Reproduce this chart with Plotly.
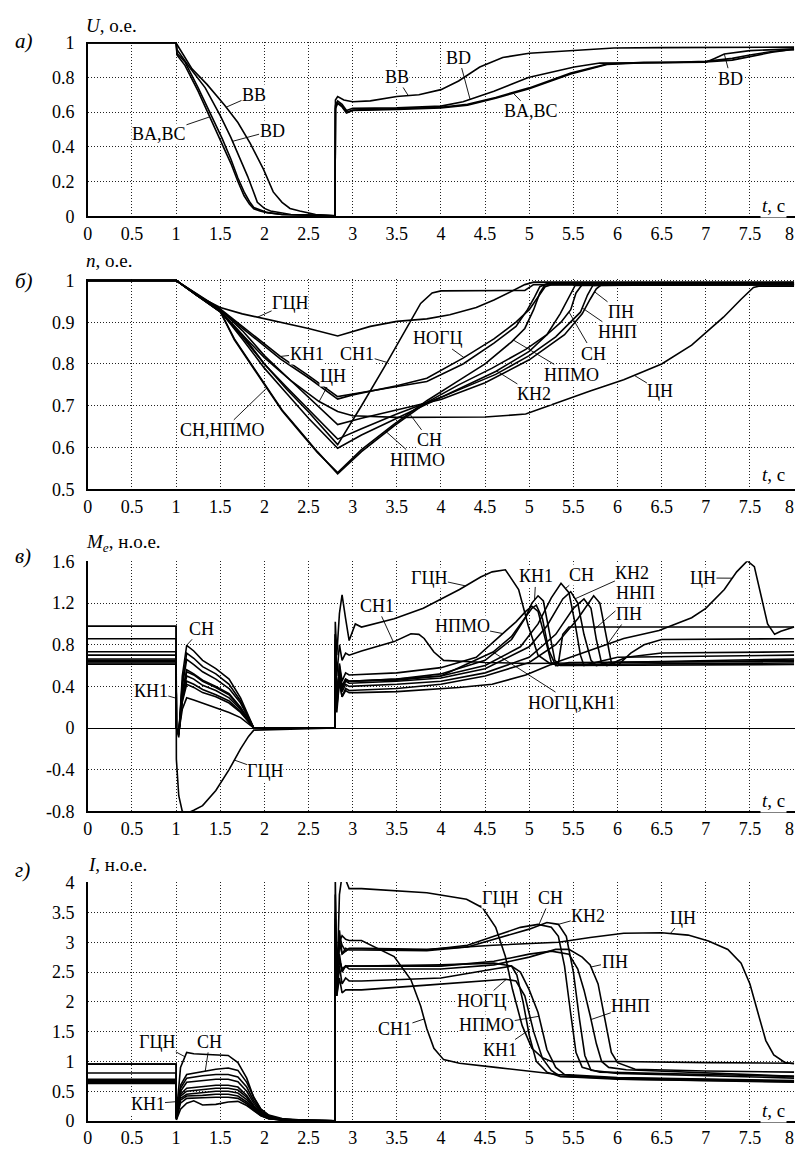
import numpy as np
import plotly.graph_objects as go

# ---------------- ticks ----------------
X_TICKS = [0, 0.5, 1, 1.5, 2, 2.5, 3, 3.5, 4, 4.5, 5, 5.5, 6, 6.5, 7, 7.5, 8]
X_TICK_TEXT = ["0", "0.5", "1", "1.5", "2", "2.5", "3", "3.5", "4", "4.5", "5", "5.5", "6", "6.5", "7", "7.5", "8\u00a0\u00a0"]
U_TICKS = [0, 0.2, 0.4, 0.6, 0.8, 1]
U_TICK_TEXT = ["0", "0.2", "0.4", "0.6", "0.8", "1"]
N_TICKS = [0.5, 0.6, 0.7, 0.8, 0.9, 1]
N_TICK_TEXT = ["0.5", "0.6", "0.7", "0.8", "0.9", "1"]
M_TICKS = [-0.8, -0.4, 0, 0.4, 0.8, 1.2, 1.6]
M_TICK_TEXT = ["-0.8", "-0.4", "0", "0.4", "0.8", "1.2", "1.6"]
I_TICKS = [0, 0.5, 1, 1.5, 2, 2.5, 3, 3.5, 4]
I_TICK_TEXT = ["0", "0.5", "1", "1.5", "2", "2.5", "3", "3.5", "4"]

# ---------------- panel a: U ----------------
U_BA_T = [0, 1.0, 1.01, 1.1, 1.25, 1.4, 1.52, 1.62, 1.7, 1.77, 1.83, 1.88, 1.95, 2.03, 2.2, 2.5, 2.8,
          2.805, 2.83, 2.88, 2.93, 3.0, 3.5, 4.0, 4.3, 4.62, 5.0, 5.47, 5.88, 6.3, 6.66, 7.0, 7.3, 7.5, 7.75, 7.96, 8.0]
U_BA = [1, 1, 0.93, 0.87, 0.72, 0.55, 0.42, 0.305, 0.2, 0.118, 0.07, 0.043, 0.03, 0.02, 0.01, 0.005, 0.003,
        0.62, 0.65, 0.63, 0.595, 0.61, 0.615, 0.625, 0.64, 0.68, 0.735, 0.82, 0.875, 0.885, 0.886, 0.89, 0.9, 0.92, 0.945, 0.96, 0.96]
U_BC_T = U_BA_T
U_BC = [1, 1, 0.94, 0.89, 0.74, 0.58, 0.45, 0.33, 0.22, 0.14, 0.085, 0.05, 0.035, 0.022, 0.01, 0.005, 0.003,
        0.63, 0.655, 0.635, 0.6, 0.612, 0.618, 0.628, 0.645, 0.685, 0.74, 0.825, 0.878, 0.887, 0.888, 0.893, 0.91, 0.93, 0.95, 0.962, 0.962]
U_BD_T = [0, 1.0, 1.01, 1.15, 1.33, 1.5, 1.62, 1.72, 1.81, 1.87, 1.92, 2.0, 2.07, 2.3, 2.8,
          2.805, 2.83, 2.88, 2.93, 3.0, 3.5, 4.0, 4.25, 4.6, 4.99, 5.51, 5.8, 6.5, 7.0, 7.1, 7.21, 7.5, 8.0]
U_BD = [1, 1, 0.96, 0.86, 0.74, 0.58, 0.455, 0.34, 0.23, 0.15, 0.08, 0.045, 0.03, 0.01, 0.003,
        0.64, 0.665, 0.645, 0.61, 0.622, 0.625, 0.635, 0.66, 0.72, 0.8, 0.86, 0.883, 0.885, 0.888, 0.91, 0.935, 0.955, 0.965]
U_BB_T = [0, 1.0, 1.01, 1.18, 1.35, 1.55, 1.7, 1.84, 1.99, 2.1, 2.2, 2.29, 2.4, 2.58, 2.8,
          2.805, 2.83, 2.9, 3.0, 3.2, 3.5, 3.75, 4.0, 4.2, 4.44, 4.7, 5.0, 5.5, 5.96, 6.5, 8.0]
U_BB = [1, 1, 0.99, 0.85, 0.76, 0.64, 0.54, 0.42, 0.27, 0.14, 0.08, 0.045, 0.03, 0.01, 0.003,
        0.67, 0.69, 0.67, 0.66, 0.665, 0.69, 0.7, 0.73, 0.78, 0.86, 0.915, 0.94, 0.955, 0.97, 0.972, 0.975]

# ---------------- panel б: n ----------------
N_GCN_T = [0, 1, 1.25, 1.5, 1.75, 2.0, 2.25, 2.5, 2.83, 3.2, 3.5, 3.84, 4.1, 4.4, 4.6, 4.8, 4.95, 5.05, 8]
N_GCN = [1, 1, 0.962, 0.935, 0.92, 0.908, 0.897, 0.885, 0.867, 0.89, 0.902, 0.908, 0.918, 0.935, 0.953, 0.975, 0.99, 0.996, 0.996]
N_KN1_T = [0, 1, 1.25, 1.5, 1.75, 2.0, 2.18, 2.5, 2.83, 3.0, 3.5, 3.84, 4.25, 4.6, 4.85, 4.98, 5.06, 5.12, 5.2, 8]
N_KN1 = [1, 1, 0.966, 0.932, 0.89, 0.848, 0.818, 0.772, 0.722, 0.728, 0.745, 0.758, 0.8, 0.85, 0.89, 0.93, 0.96, 0.985, 0.992, 0.992]
N_NOGC_T = [0, 1, 1.25, 1.5, 1.75, 2.0, 2.18, 2.5, 2.83, 3.0, 3.5, 3.84, 4.25, 4.6, 4.85, 5.0, 5.1, 5.18, 5.25, 8]
N_NOGC = [1, 1, 0.965, 0.93, 0.886, 0.843, 0.812, 0.767, 0.716, 0.726, 0.748, 0.766, 0.814, 0.86, 0.9, 0.93, 0.96, 0.985, 0.99, 0.99]
N_CN_T = [0, 1, 1.25, 1.5, 1.75, 2.0, 2.3, 2.62, 2.83, 3.0, 3.5, 4.0, 4.5, 4.96, 5.36, 5.69, 6.07, 6.5, 6.84, 7.2, 7.4, 7.54, 7.6, 8]
N_CN = [1, 1, 0.963, 0.925, 0.87, 0.815, 0.76, 0.71, 0.686, 0.676, 0.672, 0.672, 0.673, 0.68, 0.711, 0.735, 0.762, 0.8, 0.845, 0.912, 0.955, 0.983, 0.986, 0.986]
N_SN1_T = [0, 1, 1.25, 1.5, 1.75, 2.0, 2.25, 2.5, 2.83, 3.1, 3.38, 3.6, 3.77, 3.9, 4.0, 4.95, 5.05, 8]
N_SN1 = [1, 1, 0.962, 0.925, 0.865, 0.8, 0.74, 0.685, 0.607, 0.7, 0.8, 0.88, 0.945, 0.97, 0.975, 0.976, 0.99, 0.99]
N_SN_T = [0, 1, 1.25, 1.5, 1.66, 1.85, 2.03, 2.2, 2.4, 2.6, 2.83, 3.1, 3.47, 3.84, 4.2, 4.58, 4.96, 5.2, 5.36, 5.47, 5.53, 5.6, 8]
N_SN = [1, 1, 0.962, 0.926, 0.86, 0.8, 0.743, 0.69, 0.64, 0.59, 0.537, 0.59, 0.652, 0.708, 0.75, 0.79, 0.835, 0.87, 0.9, 0.93, 0.97, 0.99, 0.993]
N_NPMO_T = [0, 1, 1.25, 1.5, 1.66, 1.85, 2.03, 2.2, 2.4, 2.6, 2.83, 3.1, 3.47, 3.84, 4.2, 4.5, 4.8, 4.95, 5.05, 5.12, 5.18, 8]
N_NPMO = [1, 1, 0.962, 0.925, 0.858, 0.798, 0.74, 0.688, 0.638, 0.588, 0.54, 0.595, 0.656, 0.712, 0.76, 0.8, 0.853, 0.885, 0.93, 0.97, 0.99, 0.995]
N_KN2_T = [0, 1, 1.25, 1.5, 1.75, 2.0, 2.25, 2.5, 2.83, 3.1, 3.5, 4.0, 4.62, 5.0, 5.2, 5.35, 5.45, 5.52, 8]
N_KN2 = [1, 1, 0.963, 0.927, 0.86, 0.79, 0.73, 0.67, 0.598, 0.63, 0.67, 0.72, 0.782, 0.83, 0.87, 0.92, 0.96, 0.988, 0.99]
N_NNP_T = [0, 1, 1.25, 1.5, 1.75, 2.0, 2.25, 2.5, 2.83, 3.1, 3.5, 4.0, 4.62, 5.0, 5.3, 5.58, 5.66, 5.72, 8]
N_NNP = [1, 1, 0.963, 0.928, 0.87, 0.8, 0.745, 0.69, 0.62, 0.645, 0.68, 0.72, 0.775, 0.82, 0.865, 0.924, 0.965, 0.988, 0.992]
N_PN_T = [0, 1, 1.25, 1.5, 1.75, 2.0, 2.25, 2.5, 2.83, 3.1, 3.5, 4.0, 4.5, 5.0, 5.4, 5.6, 5.69, 5.76, 5.82, 8]
N_PN = [1, 1, 0.964, 0.93, 0.88, 0.82, 0.77, 0.72, 0.655, 0.67, 0.69, 0.715, 0.755, 0.81, 0.87, 0.92, 0.955, 0.98, 0.99, 0.99]

# ---------------- panel в: Me ----------------
M_T0 = [0, 1.0, 1.003, 1.03, 1.07, 1.12, 1.2, 1.3, 1.45, 1.6, 1.73, 1.82, 1.88, 2.8, 2.803, 2.82, 2.85, 2.88, 2.92, 2.96]
M_GCN_0 = [0.977, 0.977, -0.3, -0.65, -0.8, -0.82, -0.79, -0.745, -0.6, -0.4, -0.2, -0.08, -0.02, 0, 1.02, 0.7, 1.1, 1.28, 1.05, 0.84]
M_GCN_T = [3.03, 3.1, 3.47, 3.8, 4.21, 4.45, 4.58, 4.73, 4.88, 4.99, 5.1, 5.25, 5.33, 5.38, 5.45, 8.0]
M_GCN = [1.0, 0.97, 1.05, 1.15, 1.33, 1.45, 1.5, 1.52, 1.33, 0.98, 0.70, 0.61, 0.62, 0.9, 0.97, 0.97]
M_CN_0 = [0.977, 0.977, 0, -0.05, 0.43, 0.72, 0.67, 0.59, 0.52, 0.42, 0.26, 0.11, 0.0, 0, 0.55, 0.15, 0.45, 0.3, 0.36, 0.34]
M_CN_T = [3.05, 3.5, 3.84, 4.2, 4.58, 4.96, 5.33, 5.69, 6.07, 6.47, 6.84, 7.0, 7.21, 7.35, 7.47, 7.55, 7.62, 7.7, 7.78, 7.85, 8.0]
M_CN = [0.34, 0.35, 0.37, 0.39, 0.42, 0.51, 0.64, 0.75, 0.86, 0.936, 1.06, 1.15, 1.33, 1.5, 1.605, 1.55, 1.3, 1.0, 0.9, 0.93, 0.97]
M_SN_0 = [0.70, 0.70, 0, -0.09, 0.5, 0.795, 0.74, 0.65, 0.57, 0.47, 0.29, 0.12, 0, 0, 0.9, 0.2, 0.6, 0.4, 0.47, 0.45]
M_SN_T = [3.5, 4.0, 4.5, 4.9, 5.1, 5.25, 5.36, 5.45, 5.52, 5.58, 5.62, 5.7, 6.0, 8.0]
M_SN = [0.47, 0.5, 0.6, 0.78, 1.0, 1.25, 1.39, 1.3, 1.0, 0.7, 0.6, 0.62, 0.68, 0.70]
M_NPMO_0 = [0.638, 0.638, 0, -0.06, 0.4, 0.66, 0.61, 0.54, 0.47, 0.38, 0.24, 0.1, 0, 0, 0.8, 0.3, 0.62, 0.45, 0.53, 0.51]
M_NPMO_T = [3.5, 4.0, 4.4, 4.69, 4.85, 4.96, 5.03, 5.1, 5.18, 5.25, 5.32, 5.45, 8.0]
M_NPMO = [0.53, 0.58, 0.68, 0.9, 1.02, 1.12, 1.17, 1.12, 0.85, 0.63, 0.6, 0.63, 0.64]
M_KN2_0 = [0.663, 0.663, 0, -0.07, 0.34, 0.56, 0.52, 0.46, 0.4, 0.33, 0.2, 0.08, 0, 0, 0.7, 0.25, 0.5, 0.38, 0.45, 0.43]
M_KN2_T = [3.5, 4.0, 4.5, 5.0, 5.2, 5.38, 5.47, 5.55, 5.62, 5.7, 5.76, 5.9, 8.0]
M_KN2 = [0.45, 0.48, 0.57, 0.78, 0.98, 1.24, 1.31, 1.2, 0.9, 0.65, 0.6, 0.63, 0.663]
M_PN_0 = [0.858, 0.858, 0, -0.05, 0.32, 0.54, 0.51, 0.45, 0.39, 0.32, 0.19, 0.08, 0, 0, 0.6, 0.2, 0.45, 0.3, 0.38, 0.36]
M_PN_T = [3.5, 4.0, 4.5, 5.0, 5.3, 5.55, 5.73, 5.8, 5.87, 5.93, 6.0, 6.15, 6.3, 6.5, 8.0]
M_PN = [0.38, 0.42, 0.5, 0.63, 0.8, 1.05, 1.27, 1.2, 0.9, 0.63, 0.6, 0.72, 0.8, 0.85, 0.858]
M_NNP_0 = [0.732, 0.732, 0, -0.04, 0.3, 0.5, 0.47, 0.41, 0.36, 0.29, 0.18, 0.07, 0, 0, 0.75, 0.28, 0.5, 0.35, 0.42, 0.40]
M_NNP_T = [3.5, 4.0, 4.5, 5.0, 5.3, 5.5, 5.62, 5.7, 5.76, 5.82, 5.88, 6.1, 6.5, 8.0]
M_NNP = [0.42, 0.45, 0.53, 0.68, 0.9, 1.15, 1.24, 1.15, 0.85, 0.62, 0.6, 0.68, 0.72, 0.732]
M_SN1_0 = [0.65, 0.65, 0, -0.06, 0.27, 0.45, 0.42, 0.37, 0.32, 0.26, 0.16, 0.07, 0, 0, 0.9, 0.5, 0.8, 0.65, 0.72, 0.70]
M_SN1_T = [3.1, 3.47, 3.66, 3.75, 3.81, 3.92, 4.03, 4.5, 5.0, 6.0, 8.0]
M_SN1 = [0.74, 0.83, 0.905, 0.9, 0.86, 0.73, 0.65, 0.63, 0.62, 0.63, 0.65]
M_NOGC_0 = [0.625, 0.625, 0, -0.05, 0.25, 0.42, 0.39, 0.34, 0.3, 0.24, 0.15, 0.06, 0, 0, 0.85, 0.3, 0.55, 0.4, 0.47, 0.45]
M_NOGC_T = [3.5, 4.0, 4.59, 4.8, 4.95, 5.03, 5.08, 5.15, 5.22, 5.3, 5.4, 8.0]
M_NOGC = [0.46, 0.5, 0.73, 0.88, 1.05, 1.15, 1.18, 1.05, 0.75, 0.6, 0.61, 0.625]
M_KN1_0 = [0.613, 0.613, 0, -0.04, 0.18, 0.29, 0.27, 0.24, 0.2, 0.15, 0.1, 0.04, 0, 0, 0.65, 0.25, 0.55, 0.38, 0.46, 0.45]
M_KN1_T = [3.5, 4.0, 4.5, 4.8, 4.95, 5.03, 5.1, 5.16, 5.22, 5.29, 5.35, 5.5, 8.0]
M_KN1 = [0.47, 0.52, 0.65, 0.85, 1.05, 1.2, 1.27, 1.22, 0.95, 0.65, 0.6, 0.6, 0.61]

# ---------------- panel г: I ----------------
I_T0 = [0, 1.0, 1.003, 1.05, 1.12, 1.2, 1.3, 1.45, 1.59, 1.7, 1.8, 1.88, 1.96, 2.05, 2.2, 2.5, 2.8,
        2.803, 2.82, 2.85, 2.88, 2.92, 2.96]
I_GCN_0 = [0.955, 0.955, 0.1, 0.9, 1.15, 1.13, 1.12, 1.11, 1.10, 0.98, 0.72, 0.39, 0.2, 0.1, 0.04, 0.01, 0.003, 4.1, 2.2, 3.8, 4.12, 4.05, 3.9]
I_GCN_T = [3.1, 3.5, 3.84, 4.29, 4.47, 4.62, 4.73, 4.81, 4.92, 5.03, 5.15, 5.25, 5.4, 6.0, 7.0, 8.0]
I_GCN = [3.9, 3.86, 3.83, 3.72, 3.58, 3.25, 2.76, 2.21, 1.6, 1.22, 1.06, 1.0, 1.0, 1.0, 0.98, 0.97]
I_SN_0 = [0.68, 0.68, 0.05, 0.6, 0.78, 0.8, 0.83, 0.87, 0.89, 0.85, 0.65, 0.4, 0.2, 0.09, 0.03, 0.01, 0.003, 3.5, 2.4, 3.1, 2.95, 2.85, 2.89]
I_SN_T = [3.1, 3.84, 4.3, 4.6, 4.9, 5.1, 5.25, 5.33, 5.4, 5.47, 5.53, 5.6, 5.8, 8.0]
I_SN = [2.89, 2.87, 2.95, 3.1, 3.25, 3.3, 3.25, 3.1, 2.6, 1.8, 1.15, 0.9, 0.82, 0.75]
I_CN_0 = [0.955, 0.955, 0.08, 0.55, 0.72, 0.74, 0.76, 0.78, 0.78, 0.74, 0.57, 0.34, 0.17, 0.07, 0.03, 0.01, 0.003, 3.3, 2.2, 3.0, 2.8, 2.85, 2.9]
I_CN_T = [3.1, 3.84, 4.59, 5.33, 5.69, 6.07, 6.5, 6.8, 7.03, 7.25, 7.4, 7.5, 7.59, 7.68, 7.77, 7.9, 8.0]
I_CN = [2.9, 2.88, 2.95, 3.0, 3.08, 3.15, 3.16, 3.12, 3.02, 2.88, 2.65, 2.3, 1.82, 1.35, 1.11, 0.98, 0.96]
I_NPMO_0 = [0.66, 0.66, 0.05, 0.5, 0.65, 0.66, 0.68, 0.7, 0.7, 0.66, 0.5, 0.3, 0.15, 0.07, 0.02, 0.01, 0.003, 3.0, 2.1, 2.6, 2.3, 2.4, 2.35]
I_NPMO_T = [3.1, 4.0, 4.6, 4.8, 4.9, 5.0, 5.1, 5.2, 5.3, 5.4, 6.0, 8.0]
I_NPMO = [2.35, 2.4, 2.55, 2.6, 2.5, 2.2, 1.82, 1.2, 0.9, 0.78, 0.73, 0.68]
I_KN2_0 = [0.67, 0.67, 0.04, 0.45, 0.55, 0.56, 0.58, 0.6, 0.6, 0.57, 0.43, 0.26, 0.13, 0.06, 0.02, 0.01, 0.003, 3.8, 2.5, 3.2, 2.8, 2.9, 2.87]
I_KN2_T = [3.1, 3.84, 4.3, 4.6, 5.0, 5.2, 5.33, 5.42, 5.5, 5.57, 5.63, 5.7, 6.0, 8.0]
I_KN2 = [2.87, 2.86, 2.92, 3.05, 3.22, 3.33, 3.3, 3.1, 2.5, 1.7, 1.1, 0.85, 0.8, 0.72]
I_PN_0 = [0.807, 0.807, 0.05, 0.42, 0.5, 0.51, 0.53, 0.55, 0.55, 0.52, 0.4, 0.24, 0.12, 0.05, 0.02, 0.01, 0.003, 3.2, 2.2, 2.8, 2.5, 2.6, 2.55]
I_PN_T = [3.1, 4.0, 4.6, 5.0, 5.3, 5.45, 5.6, 5.69, 5.78, 5.86, 5.93, 6.0, 6.2, 7.0, 8.0]
I_PN = [2.55, 2.55, 2.62, 2.75, 2.88, 2.88, 2.75, 2.62, 2.3, 1.7, 1.15, 0.98, 0.87, 0.84, 0.82]
I_NNP_0 = [0.70, 0.70, 0.04, 0.38, 0.45, 0.46, 0.48, 0.5, 0.5, 0.47, 0.36, 0.22, 0.11, 0.05, 0.02, 0.01, 0.003, 3.1, 2.3, 2.7, 2.55, 2.6, 2.6]
I_NNP_T = [3.1, 4.0, 4.6, 5.0, 5.25, 5.45, 5.55, 5.62, 5.69, 5.76, 5.82, 5.9, 6.1, 8.0]
I_NNP = [2.6, 2.6, 2.68, 2.8, 2.85, 2.8, 2.55, 2.2, 1.77, 1.3, 1.0, 0.9, 0.86, 0.75]
I_SN1_0 = [0.65, 0.65, 0.05, 0.35, 0.42, 0.42, 0.43, 0.45, 0.45, 0.42, 0.32, 0.2, 0.1, 0.04, 0.02, 0.01, 0.003, 3.4, 2.3, 3.0, 3.11, 3.05, 3.03]
I_SN1_T = [3.1, 3.47, 3.66, 3.77, 3.84, 3.92, 4.03, 4.21, 4.62, 5.0, 5.33, 6.07, 7.0, 8.0]
I_SN1 = [3.03, 2.76, 2.37, 1.93, 1.55, 1.22, 1.03, 0.97, 0.9, 0.84, 0.78, 0.7, 0.67, 0.65]
I_NOGC_0 = [0.64, 0.64, 0.03, 0.3, 0.38, 0.38, 0.39, 0.4, 0.4, 0.38, 0.29, 0.18, 0.09, 0.04, 0.02, 0.01, 0.003, 2.9, 2.1, 2.4, 2.15, 2.2, 2.2]
I_NOGC_T = [3.1, 3.84, 4.5, 4.73, 4.85, 4.95, 5.05, 5.15, 5.25, 5.35, 6.0, 8.0]
I_NOGC = [2.2, 2.28, 2.36, 2.38, 2.35, 2.1, 1.5, 1.05, 0.85, 0.75, 0.72, 0.67]
I_KN1_0 = [0.63, 0.63, 0.02, 0.2, 0.3, 0.34, 0.27, 0.28, 0.32, 0.33, 0.26, 0.18, 0.09, 0.04, 0.02, 0.01, 0.003, 3.0, 2.2, 2.7, 2.55, 2.6, 2.6]
I_KN1_T = [3.1, 4.0, 4.6, 4.8, 4.86, 4.93, 5.0, 5.08, 5.2, 5.35, 6.0, 8.0]
I_KN1 = [2.6, 2.62, 2.65, 2.6, 2.45, 2.0, 1.44, 1.0, 0.82, 0.75, 0.7, 0.66]

# ---------------- assemble series ----------------
SER = {
    1: {"BA": (U_BA_T, U_BA), "BC": (U_BC_T, U_BC), "BD": (U_BD_T, U_BD), "BB": (U_BB_T, U_BB)},
    2: {"ГЦН": (N_GCN_T, N_GCN), "КН1": (N_KN1_T, N_KN1), "НОГЦ": (N_NOGC_T, N_NOGC), "ЦН": (N_CN_T, N_CN),
        "СН1": (N_SN1_T, N_SN1), "СН": (N_SN_T, N_SN), "НПМО": (N_NPMO_T, N_NPMO), "КН2": (N_KN2_T, N_KN2),
        "ННП": (N_NNP_T, N_NNP), "ПН": (N_PN_T, N_PN)},
    3: {k: (M_T0 + t, v0 + v) for k, t, v0, v in [
        ("ГЦН", M_GCN_T, M_GCN_0, M_GCN), ("ЦН", M_CN_T, M_CN_0, M_CN), ("СН", M_SN_T, M_SN_0, M_SN),
        ("НПМО", M_NPMO_T, M_NPMO_0, M_NPMO), ("КН2", M_KN2_T, M_KN2_0, M_KN2), ("ПН", M_PN_T, M_PN_0, M_PN),
        ("ННП", M_NNP_T, M_NNP_0, M_NNP), ("СН1", M_SN1_T, M_SN1_0, M_SN1), ("НОГЦ", M_NOGC_T, M_NOGC_0, M_NOGC),
        ("КН1", M_KN1_T, M_KN1_0, M_KN1)]},
    4: {k: (I_T0 + t, v0 + v) for k, t, v0, v in [
        ("ГЦН", I_GCN_T, I_GCN_0, I_GCN), ("ЦН", I_CN_T, I_CN_0, I_CN), ("СН", I_SN_T, I_SN_0, I_SN),
        ("НПМО", I_NPMO_T, I_NPMO_0, I_NPMO), ("КН2", I_KN2_T, I_KN2_0, I_KN2), ("ПН", I_PN_T, I_PN_0, I_PN),
        ("ННП", I_NNP_T, I_NNP_0, I_NNP), ("СН1", I_SN1_T, I_SN1_0, I_SN1), ("НОГЦ", I_NOGC_T, I_NOGC_0, I_NOGC),
        ("КН1", I_KN1_T, I_KN1_0, I_KN1)]},
}

# labels: (panel, series, leader tip t, text, text t, text value)
LABELS = [
    (1, "BB", 1.567, "BB", 1.882, 0.699), (1, "BD", 1.64, "BD", 2.087, 0.493), (1, "BA", 1.38, "BA,BC", 0.806, 0.473),
    (1, "BB", 3.63, "BB", 3.497, 0.803), (1, "BD", 4.33, "BD", 4.203, 0.915), (1, "BA", 4.82, "BA,BC", 5.019, 0.605),
    (1, "BD", 7.21, "BD", 7.283, 0.793),
    (2, "ГЦН", 1.92, "ГЦН", 2.291, 0.947), (2, "КН1", 2.18, "КН1", 2.477, 0.825), (2, "СН1", 3.39, "СН1", 3.051, 0.825),
    (2, "ЦН", 2.62, "ЦН", 2.773, 0.770), (2, "СН", 2.03, "СН,НПМО", 1.530, 0.641), (2, "НОГЦ", 4.26, "НОГЦ", 3.961, 0.861),
    (2, "СН", 3.65, "СН", 3.869, 0.617), (2, "НПМО", 3.37, "НПМО", 3.739, 0.570), (2, "НПМО", 4.82, "НПМО", 5.483, 0.774),
    (2, "КН2", 4.63, "КН2", 5.056, 0.727), (2, "СН", 5.45, "СН", 5.724, 0.825), (2, "ННП", 5.6, "ННП", 6.002, 0.876),
    (2, "ПН", 5.74, "ПН", 6.040, 0.924), (2, "ЦН", 6.19, "ЦН", 6.486, 0.735),
    (3, "СН", 1.12, "СН", 1.288, 0.953), (3, "КН1", 1.0016, "КН1", 0.713, 0.356), (3, "ГЦН", 1.66, "ГЦН", 2.012, -0.415),
    (3, "СН1", 3.46, "СН1", 3.274, 1.173), (3, "ГЦН", 4.28, "ГЦН", 3.869, 1.441), (3, "НПМО", 4.7, "НПМО", 4.239, 0.984),
    (3, "НОГЦ", 4.59, "НОГЦ,КН1", 5.483, 0.245), (3, "КН1", 5.06, "КН1", 5.075, 1.456), (3, "СН", 5.41, "СН", 5.595, 1.472),
    (3, "КН2", 5.52, "КН2", 6.169, 1.488), (3, "ННП", 5.74, "ННП", 6.207, 1.295), (3, "ПН", 5.89, "ПН", 6.132, 1.095),
    (3, "ЦН", 7.3, "ЦН", 6.968, 1.441),
    (4, "ГЦН", 1.1, "ГЦН", 0.787, 1.328), (4, "СН", 1.33, "СН", 1.381, 1.328), (4, "КН1", 1.0015, "КН1", 0.676, 0.286),
    (4, "СН1", 3.81, "СН1", 3.479, 1.547), (4, "ГЦН", 4.44, "ГЦН", 4.666, 3.743), (4, "СН", 5.11, "СН", 5.241, 3.743),
    (4, "КН2", 5.33, "КН2", 5.668, 3.440), (4, "ЦН", 6.6, "ЦН", 6.745, 3.414), (4, "ПН", 5.7, "ПН", 5.966, 2.673),
    (4, "ННП", 5.7, "ННП", 6.151, 1.932), (4, "НОГЦ", 4.74, "НОГЦ", 4.462, 2.015), (4, "НПМО", 5.11, "НПМО", 4.518, 1.603),
    (4, "КН1", 4.99, "КН1", 4.666, 1.192),
]

# ---------------- figure ----------------
W, H = 804, 1151
FONT = "Liberation Serif"
fig = go.Figure()

for p, series in SER.items():
    for name, (t, v) in series.items():
        fig.add_trace(go.Scatter(x=t, y=v, mode="lines", name=name, showlegend=False, hoverinfo="skip",
                                 line=dict(color="black", width=1.6),
                                 xaxis="x" if p == 1 else f"x{p}", yaxis="y" if p == 1 else f"y{p}"))

X_DOM = [84.3 / W, 803.5 / W]
PANELS = {
    1: dict(top=33.3, bot=210.7, rng=[0, 1.006], tv=U_TICKS, tt=U_TICK_TEXT),
    2: dict(top=274.3, bot=488.3, rng=[0.5, 1.004], tv=N_TICKS, tt=N_TICK_TEXT),
    3: dict(top=561.4, bot=815.8, rng=[-0.8, 1.603], tv=M_TICKS, tt=M_TICK_TEXT),
    4: dict(top=887.7, bot=1130.7, rng=[0, 4.01], tv=I_TICKS, tt=I_TICK_TEXT),
}
grid = dict(showgrid=True, gridcolor="#222", gridwidth=1, griddash="1px,2px")
tickfont = dict(family=FONT, size=18, color="black")
lay = {}
for p, d in PANELS.items():
    sfx = "" if p == 1 else str(p)
    lay[f"xaxis{sfx}"] = dict(domain=X_DOM, range=[0, 8.005], anchor=f"y{sfx}", tickvals=X_TICKS,
                              ticktext=X_TICK_TEXT, showline=True, linecolor="black", linewidth=1.5,
                              zeroline=False, ticks="", tickfont=tickfont, ticklabeloverflow="allow", **grid)
    lay[f"yaxis{sfx}"] = dict(domain=[1 - d["bot"] / H, 1 - d["top"] / H], range=d["rng"], anchor=f"x{sfx}",
                              tickvals=d["tv"], ticktext=d["tt"], showline=True, linecolor="black", linewidth=1.5,
                              zeroline=(p == 3), zerolinecolor="black", zerolinewidth=1.2,
                              ticks="", ticklabelstandoff=8, tickfont=tickfont, **grid)

ann = []
lblfont = dict(family=FONT, size=18, color="black")
for p, s, t, text, tx, ty in LABELS:
    tt, vv = SER[p][s]
    y = float(np.interp(t, tt, vv))
    sfx = "" if p == 1 else str(p)
    ann.append(dict(x=t, y=y, xref=f"x{sfx}", yref=f"y{sfx}", axref=f"x{sfx}", ayref=f"y{sfx}",
                    ax=tx, ay=ty, text=text, showarrow=True, arrowhead=0,
                    arrowwidth=0.9, arrowcolor="black", font=lblfont, bgcolor="white",
                    borderpad=0, standoff=0))

TITLES = [("<i>U</i>, о.е.", 80, 17, "<i>а)</i>", 33),
          ("<i>n</i>, о.е.", 80, 256, "<i>б)</i>", 277),
          ("<i>M<sub>e</sub></i>, н.о.е.", 80, 543, "<i>в)</i>", 556),
          ("<i>I</i>, н.о.е.", 82, 870, "<i>г)</i>", 875)]
for title, tx, ty, letter, ly in TITLES:
    ann.append(dict(x=tx / W, y=1 - ty / H, xref="paper", yref="paper", text=title, showarrow=False,
                    xanchor="left", yanchor="middle", font=dict(family=FONT, size=19, color="black")))
    ann.append(dict(x=8 / W, y=1 - ly / H, xref="paper", yref="paper", text=letter, showarrow=False,
                    xanchor="left", yanchor="middle", font=dict(family=FONT, size=21, color="black")))
for ty in [200, 473, 805, 1120]:
    ann.append(dict(x=796 / W, y=1 - ty / H, xref="paper", yref="paper", text="<i>t</i>, с", showarrow=False,
                    xanchor="right", yanchor="middle", bgcolor="white",
                    font=dict(family=FONT, size=19, color="black")))

fig.update_layout(width=W, height=H, margin=dict(l=0, r=0, t=0, b=0), paper_bgcolor="white",
                  plot_bgcolor="white", annotations=ann, **lay)
fig.write_html("out.html")
